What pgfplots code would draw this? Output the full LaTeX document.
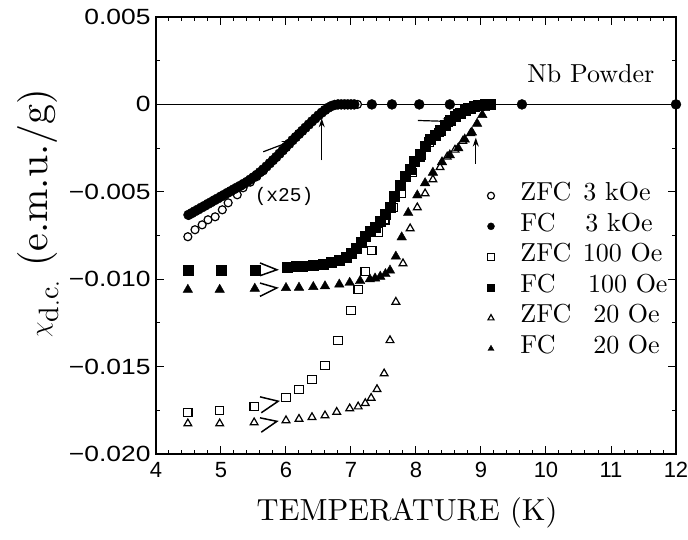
\documentclass[border=0pt]{standalone}
\usepackage{fontspec}
\setmainfont{lmroman10-regular.otf}[BoldFont=lmroman10-bold.otf, ItalicFont=lmroman10-italic.otf]
\setsansfont{Liberation Sans}
\setmonofont{Liberation Mono}
\usepackage{graphicx}
\usepackage{pgfplots}
\pgfplotsset{compat=1.18}
\usetikzlibrary{arrows.meta}
\newcommand{\lgd}[3]{\makebox[#1][l]{#2}#3}
\newcommand{\yl}[1]{\scalebox{1.2}[1]{#1}}

\pgfplotstableread{
T v
4.50 -0.00632
4.55 -0.00622
4.60 -0.00611
4.65 -0.00601
4.70 -0.00590
4.75 -0.00580
4.80 -0.00569
4.85 -0.00559
4.90 -0.00548
4.95 -0.00538
5.00 -0.00527
5.05 -0.00517
5.10 -0.00506
5.15 -0.00496
5.20 -0.00485
5.25 -0.00475
5.30 -0.00465
5.35 -0.00454
5.40 -0.00443
5.45 -0.00430
5.50 -0.00417
5.55 -0.00403
5.60 -0.00388
5.65 -0.00372
5.70 -0.00355
5.75 -0.00337
5.80 -0.00319
5.85 -0.00301
5.90 -0.00282
5.95 -0.00263
6.00 -0.00244
6.05 -0.00225
6.10 -0.00205
6.15 -0.00187
6.20 -0.00169
6.25 -0.00151
6.30 -0.00133
6.35 -0.00115
6.40 -0.00097
6.45 -0.00080
6.50 -0.00063
6.55 -0.00047
6.60 -0.00032
6.65 -0.00019
6.70 -0.00009
6.75 -0.00003
6.80 0
6.85 0
6.90 0
6.95 0
7.00 0
7.05 0
7.32 0
7.63 0
8.05 0
8.52 0
9.63 0
12.00 0
}\fcthree

\pgfplotstableread{
T v
4.49 -0.00757
4.60 -0.00717
4.71 -0.00689
4.80 -0.00660
4.91 -0.00643
5.02 -0.00603
5.11 -0.00563
5.25 -0.00517
5.34 -0.00477
5.45 -0.00445
5.55 -0.00413
5.65 -0.00380
6.80 0
6.90 0
7.00 0
7.10 0
}\zfcthree

\pgfplotstableread{
T v
4.50 -0.00951
5.00 -0.00951
5.52 -0.00950
6.02 -0.00930
6.15 -0.00928
6.25 -0.00926
6.42 -0.00920
6.57 -0.00912
6.70 -0.00902
6.82 -0.00890
6.92 -0.00872
7.00 -0.00850
7.08 -0.00820
7.15 -0.00790
7.22 -0.00755
7.30 -0.00725
7.38 -0.00700
7.45 -0.00670
7.52 -0.00630
7.60 -0.00590
7.67 -0.00525
7.75 -0.00460
7.83 -0.00410
7.91 -0.00370
7.98 -0.00325
8.06 -0.00285
8.14 -0.00240
8.22 -0.00200
8.30 -0.00175
8.37 -0.00150
8.45 -0.00120
8.52 -0.00092
8.60 -0.00070
8.68 -0.00050
8.75 -0.00035
8.83 -0.00020
8.90 -0.00010
8.98 -0.00002
9.06 0
9.14 0
}\fchund

\pgfplotstableread{
T v
4.49 -0.01763
4.98 -0.01751
5.51 -0.01729
6.00 -0.01677
6.20 -0.01631
6.40 -0.01574
6.60 -0.01494
6.80 -0.01351
7.00 -0.01180
7.11 -0.01060
7.22 -0.00955
7.32 -0.00835
7.42 -0.00730
7.52 -0.00660
7.65 -0.00590
7.78 -0.00510
7.94 -0.00390
8.06 -0.00300
8.20 -0.00215
8.35 -0.00160
8.50 -0.00100
8.65 -0.00055
8.80 -0.00022
8.95 -0.00004
9.10 0
}\zfchund

\pgfplotstableread{
T v
4.49 -0.01060
4.98 -0.01060
5.52 -0.01054
6.00 -0.01050
6.20 -0.01048
6.42 -0.01044
6.60 -0.01040
6.82 -0.01030
6.98 -0.01020
7.14 -0.01010
7.29 -0.01000
7.37 -0.00995
7.45 -0.00985
7.53 -0.00970
7.60 -0.00950
7.69 -0.00870
7.78 -0.00760
7.88 -0.00620
8.02 -0.00520
8.14 -0.00450
8.26 -0.00390
8.40 -0.00330
8.52 -0.00290
8.65 -0.00250
8.75 -0.00200
8.86 -0.00160
8.94 -0.00110
9.02 -0.00060
9.06 -0.00020
}\fctwenty

\pgfplotstableread{
T v
4.49 -0.01826
4.98 -0.01826
5.51 -0.01820
6.00 -0.01808
6.20 -0.01800
6.40 -0.01790
6.60 -0.01780
6.78 -0.01760
6.98 -0.01740
7.11 -0.01729
7.22 -0.01710
7.31 -0.01680
7.40 -0.01630
7.51 -0.01540
7.60 -0.01350
7.69 -0.01130
7.80 -0.00910
7.91 -0.00710
8.02 -0.00590
8.14 -0.00510
8.26 -0.00430
8.37 -0.00360
8.48 -0.00300
8.60 -0.00260
8.72 -0.00210
8.84 -0.00165
}\zfctwenty

\begin{document}
\begin{tikzpicture}
\begin{axis}[
  at={(0pt,0pt)}, anchor=south west,
  scale only axis, width=520pt, height=437pt,
  xmin=4, xmax=12, ymin=-0.02, ymax=0.005,
  xtick={4,5,...,12}, minor x tick num=4,
  ytick={-0.02,-0.015,-0.01,-0.005,0,0.005}, minor y tick num=1,
  yticklabels={\yl{−0.020},\yl{−0.015},\yl{−0.010},\yl{−0.005},\yl{0},\yl{0.005}},
  scaled y ticks=false,
  /pgf/number format/assume math mode=true,
  tick align=inside, major tick length=8pt, minor tick length=4pt,
  every tick/.style={black, line width=1pt},
  axis line style={line width=1.3pt},
  ticklabel style={font=\sffamily\fontsize{22}{22}\selectfont},
  xticklabel style={yshift=-5pt},
  yticklabel style={xshift=-2pt},
  xlabel={TEMPERATURE (K)},
  xlabel style={font=\fontsize{30.5}{30.5}\selectfont, at={(axis description cs:0.483,-0.135)}, anchor=center},
  ylabel={$\chi_{\mathrm{d.c.}}$ (e.m.u./g)},
  ylabel style={font=\fontsize{40}{40}\selectfont, at={(axis description cs:-0.226,0.551)}, anchor=center},
  clip=false,
  legend style={draw=none, fill=none, at={(axis cs:9.10,-0.00435)}, anchor=north west,
    inner sep=0pt, outer sep=0pt, row sep=0pt, column sep=26pt,
    font=\fontsize{26}{26}\selectfont,
    nodes={inner sep=0pt, text height=20pt, text depth=10.6pt}},
  legend cell align=left,
  legend image post style={mark size=3.5pt},
]
\draw[line width=1.2pt] (axis cs:4,0) -- (axis cs:12,0);

\addplot[only marks, mark=*, mark size=4pt, mark options={draw=black, fill=white, line width=1.2pt}] table[x=T,y=v] {\zfcthree};
\addlegendentry{\lgd{2.42em}{ZFC}{3 kOe}}
\addplot[only marks, mark=*, mark size=5pt, mark options={draw=black, fill=black}] table[x=T,y=v] {\fcthree};
\addlegendentry{\lgd{2.5em}{FC}{3 kOe}}
\addplot[only marks, mark=square*, mark size=4.2pt, mark options={draw=black, fill=white, line width=1.2pt}] table[x=T,y=v] {\zfchund};
\addlegendentry{\lgd{2.4em}{ZFC}{100 Oe}}
\addplot[only marks, mark=square*, mark size=5pt, mark options={draw=black, fill=black}] table[x=T,y=v] {\fchund};
\addlegendentry{\lgd{2.6em}{FC}{100 Oe}}
\addplot[only marks, mark=triangle*, mark size=4.5pt, mark options={draw=black, fill=white, line width=1.2pt}] table[x=T,y=v] {\zfctwenty};
\addlegendentry{\lgd{2.8em}{ZFC}{20 Oe}}
\addplot[only marks, mark=triangle*, mark size=5.5pt, mark options={draw=black, fill=black}] table[x=T,y=v] {\fctwenty};
\addlegendentry{\lgd{2.8em}{FC}{20 Oe}}

% break marks
\draw[line width=1.5pt] (axis cs:5.60,-0.00907) -- (axis cs:5.86,-0.00946) -- (axis cs:5.60,-0.00980);
\draw[line width=1.5pt] (axis cs:5.60,-0.01022) -- (axis cs:5.86,-0.01050) -- (axis cs:5.60,-0.01098);
\draw[line width=1.5pt] (axis cs:5.60,-0.01673) -- (axis cs:5.88,-0.01698) -- (axis cs:5.62,-0.01764);
\draw[line width=1.5pt] (axis cs:5.60,-0.01793) -- (axis cs:5.86,-0.01813) -- (axis cs:5.62,-0.01875);

% arrows
\draw[line width=1.2pt, -{Stealth[length=9pt,width=6pt]}] (axis cs:6.55,-0.0032) -- (axis cs:6.55,-0.0008);
\draw[line width=1.2pt, -{Stealth[length=9pt,width=6pt]}] (axis cs:8.92,-0.0034) -- (axis cs:8.92,-0.0019);
\draw[line width=1.2pt, -{Stealth[length=9pt,width=6pt]}] (axis cs:8.03,-0.00092) -- (axis cs:8.55,-0.00098);
\draw[line width=1.2pt, -{Stealth[length=10pt,width=7pt]}] (axis cs:5.65,-0.00271) -- (axis cs:6.09,-0.00209);

\node[font=\fontsize{26}{26}\selectfont, anchor=base] at (axis cs:10.69,0.00123) {Nb Powder};
\node[font=\ttfamily\fontsize{19.5}{19.5}\selectfont] at (axis cs:5.97,-0.00529) {(x25)};
\end{axis}
\pgfresetboundingbox
\path (-156pt,-85pt) rectangle (532pt,454pt);
\end{tikzpicture}
\end{document}
